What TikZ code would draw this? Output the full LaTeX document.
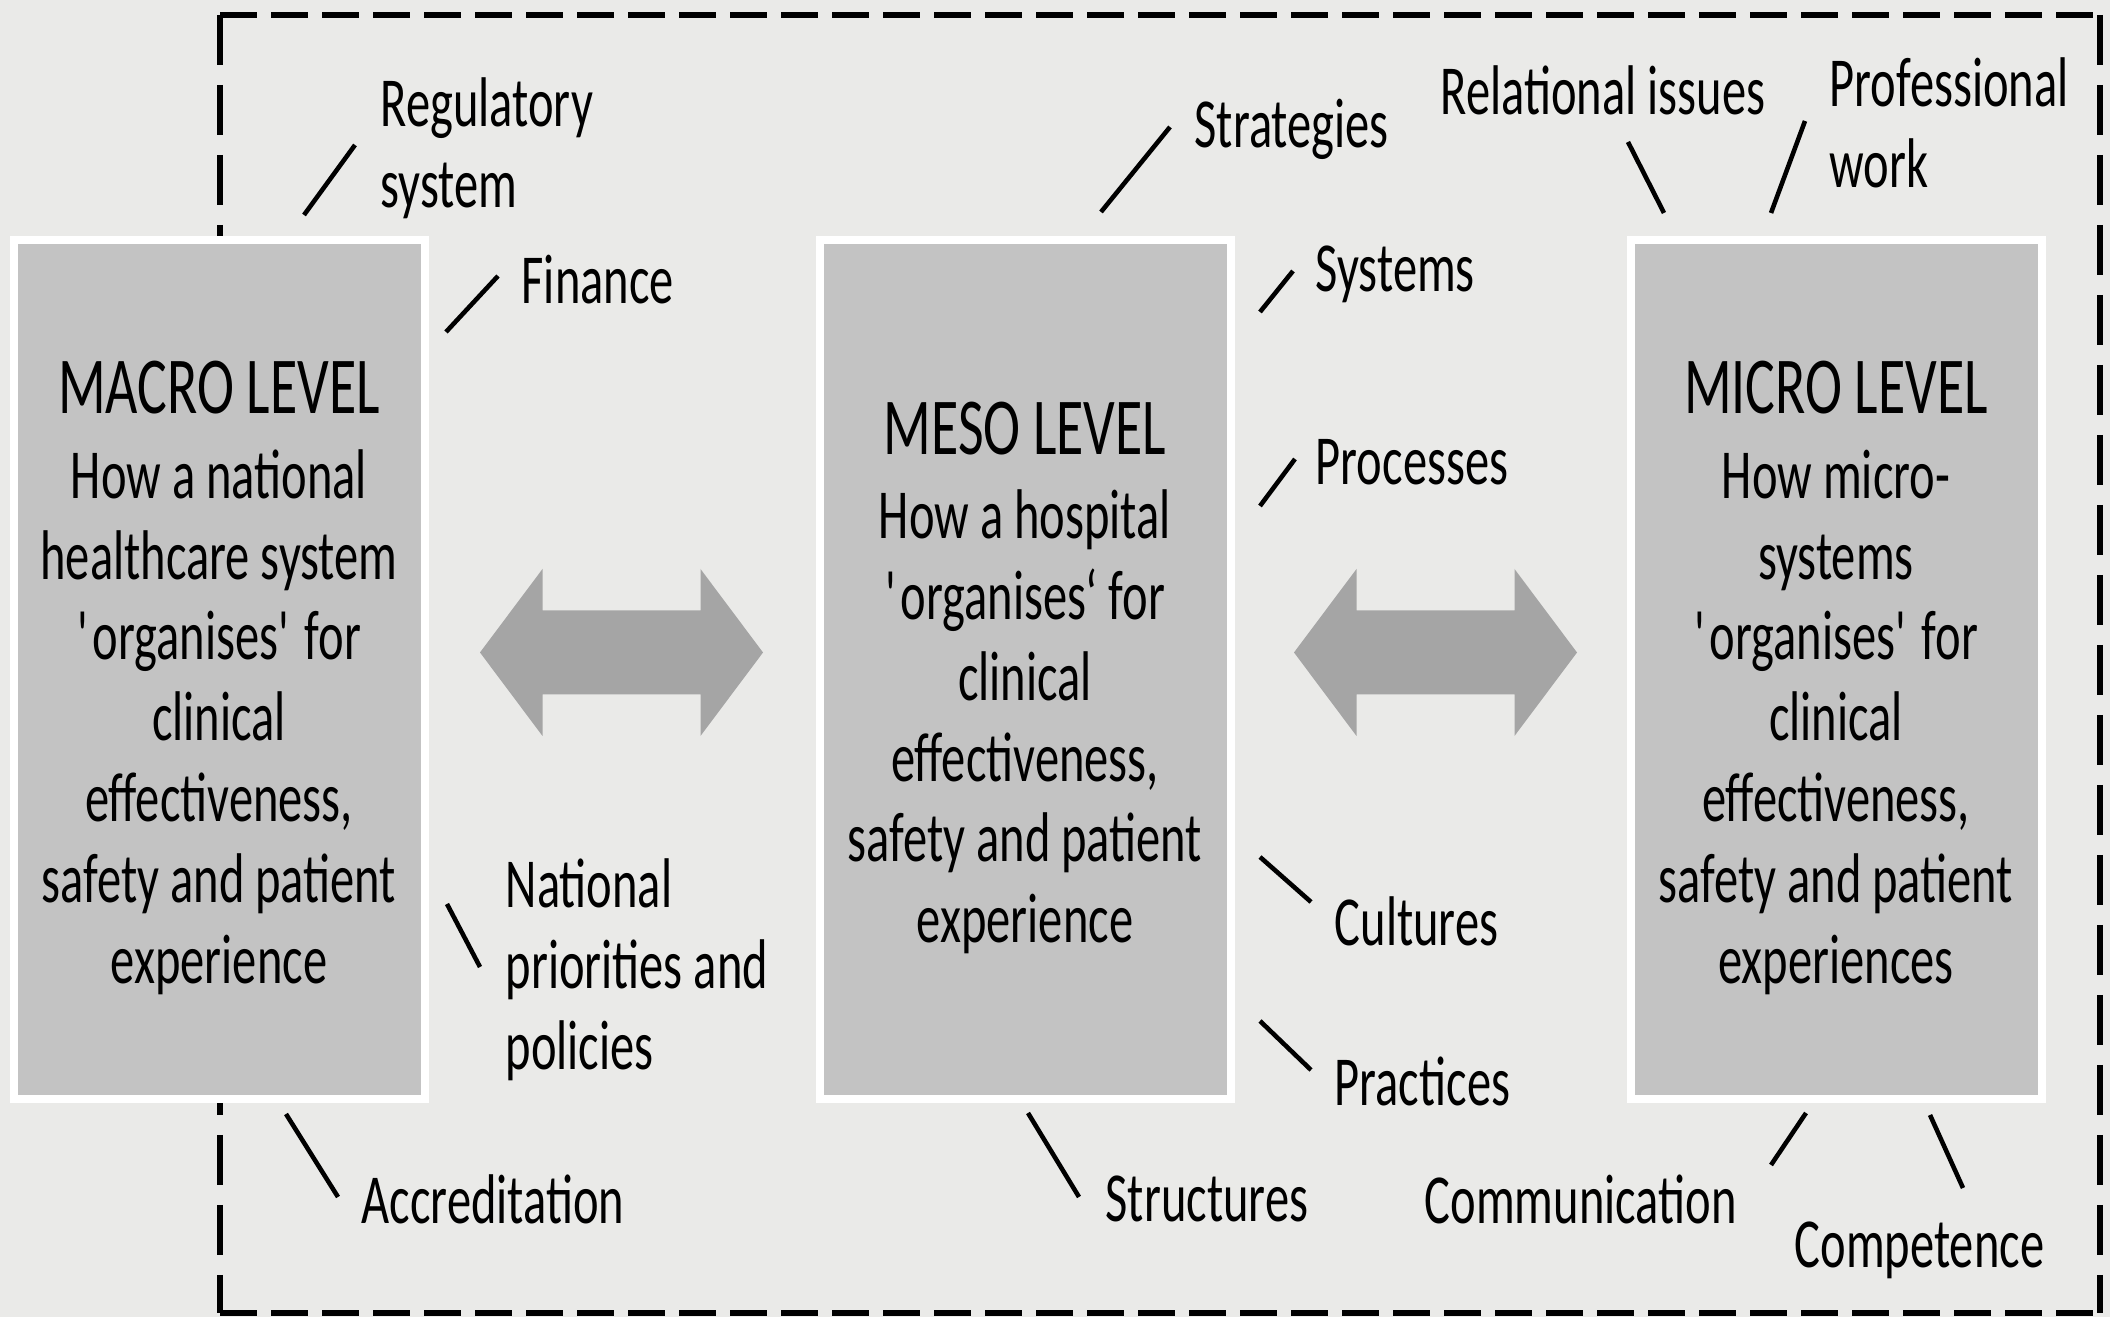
\documentclass[tikz,border=0pt]{standalone}
\usepackage{fontspec}
\setmainfont{Carlito}[FakeStretch=0.69]
\usepackage{tikz}

\definecolor{bggray}{HTML}{EAEAE8}
\definecolor{boxgray}{HTML}{C3C3C3}
\definecolor{arrowgray}{HTML}{A5A5A5}

\begin{document}
\begin{tikzpicture}[
        level/.style={fill=boxgray, draw=white, line width=0.08cm, minimum width=4.11cm,
            minimum height=8.59cm, inner sep=0pt},
        leveltext/.style={align=center, inner sep=0pt},
        factor/.style={anchor=west, align=left, inner sep=0pt},
        tick/.style={line width=1.3pt},
        font=\fontsize{20}{23}\selectfont]
        \fill[bggray] (0, 0) rectangle (21.1, 13.17);

        % dashed frame
        \draw[line width=1.6pt, dash pattern=on 0.37cm off 0.14cm] (2.2, 13.02) -- (21.0, 13.02) (2.2, 0.04) -- (21.0, 0.04);
        \draw[line width=1.6pt, dash pattern=on 0.5cm off 0.2cm] (2.2, 13.02) -- (2.2, 0.04) (21.0, 13.02) -- (21.0, 0.04);

        \node[level] (macro) at (2.19, 6.47) {};
        \node[level] (meso) at (10.25, 6.47) {};
        \node[level] (micro) at (18.36, 6.47) {};

        \node[leveltext] (macrotext) at (2.19, 6.39) {{\fontsize{23}{26}\selectfont MACRO LEVEL}\\[1pt]
            How a national\\healthcare system\\\textquotesingle organises\textquotesingle{} for\\clinical\\effectiveness,\\safety and patient\\experience};
        \node[leveltext] (mesotext) at (10.25, 6.39) {{\fontsize{23}{26}\selectfont MESO LEVEL}\\[1pt]
            How a hospital\\\textquotesingle organises‘ for\\clinical\\effectiveness,\\safety and patient\\experience};
        \node[leveltext] (microtext) at (18.36, 6.39) {{\fontsize{23}{26}\selectfont MICRO LEVEL}\\[1pt]
            How micro-\\systems\\\textquotesingle organises\textquotesingle{} for\\clinical\\effectiveness,\\safety and patient\\experiences};

        \fill[arrowgray, shift={(6.215, 6.645)}] (-1.415, 0) -- (-0.79, 0.835) -- (-0.79, 0.42) -- (0.79, 0.42)
            -- (0.79, 0.835) -- (1.415, 0) -- (0.79, -0.835) -- (0.79, -0.42) -- (-0.79, -0.42) -- (-0.79, -0.835) -- cycle;
        \fill[arrowgray, shift={(14.355, 6.645)}] (-1.415, 0) -- (-0.79, 0.835) -- (-0.79, 0.42) -- (0.79, 0.42)
            -- (0.79, 0.835) -- (1.415, 0) -- (0.79, -0.835) -- (0.79, -0.42) -- (-0.79, -0.42) -- (-0.79, -0.835) -- cycle;

        \node[factor] (regulatory) at (3.80, 11.69) {Regulatory\\system};
        \node[factor] (finance) at (5.21, 10.37) {Finance};
        \node[factor] (national) at (5.05, 3.47) {National\\priorities and\\policies};
        \node[factor] (accreditation) at (3.61, 1.18) {Accreditation};
        \node[factor] (strategies) at (11.94, 11.88) {Strategies};
        \node[factor] (systems) at (13.15, 10.43) {Systems};
        \node[factor] (processes) at (13.15, 8.55) {Processes};
        \node[factor] (cultures) at (13.34, 3.96) {Cultures};
        \node[factor] (practices) at (13.34, 2.36) {Practices};
        \node[factor] (structures) at (11.05, 1.18) {Structures};
        \node[factor] (relational) at (14.40, 12.27) {Relational issues};
        \node[factor] (professional) at (18.29, 11.94) {Professional\\work};
        \node[factor] (communication) at (14.24, 1.18) {Communication};
        \node[factor] (competence) at (17.94, 0.67) {Competence};

        \draw[tick] (3.04, 11.02) -- (3.55, 11.72);
        \draw[tick] (4.46, 9.85) -- (4.98, 10.41);
        \draw[tick] (4.47, 4.13) -- (4.80, 3.50);
        \draw[tick] (2.86, 2.03) -- (3.38, 1.20);
        \draw[tick] (11.01, 11.05) -- (11.70, 11.90);
        \draw[tick] (12.60, 10.05) -- (12.93, 10.46);
        \draw[tick] (12.60, 8.11) -- (12.95, 8.58);
        \draw[tick] (12.60, 4.60) -- (13.11, 4.15);
        \draw[tick] (12.60, 2.96) -- (13.11, 2.47);
        \draw[tick] (10.28, 2.04) -- (10.79, 1.20);
        \draw[tick] (16.28, 11.75) -- (16.64, 11.04);
        \draw[tick] (18.05, 11.96) -- (17.71, 11.04);
        \draw[tick] (18.06, 2.04) -- (17.71, 1.52);
        \draw[tick] (19.30, 2.02) -- (19.63, 1.29);
    \end{tikzpicture}
\end{document}
